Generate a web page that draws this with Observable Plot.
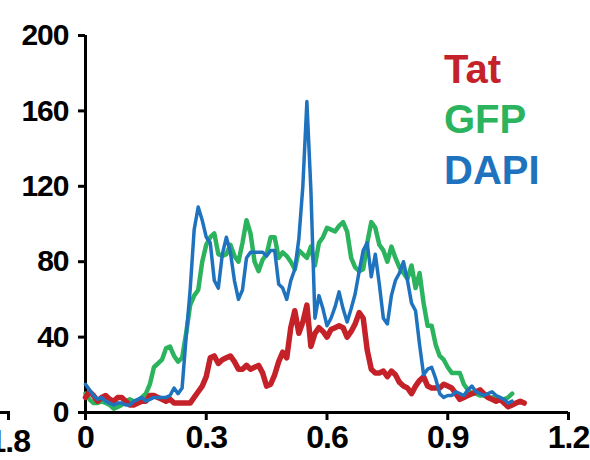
<!DOCTYPE html>
<html>
<head>
<meta charset="utf-8">
<script src="https://cdn.jsdelivr.net/npm/d3@7"></script>
<script src="https://cdn.jsdelivr.net/npm/@observablehq/plot@0.6"></script>
<style>
  html, body { margin: 0; padding: 0; background: #fff; }
  #wrap { position: relative; width: 590px; height: 460px; overflow: hidden; font-family: "Liberation Sans", Arial, sans-serif; }
  #wrap svg text { letter-spacing: -1px; }
  .leg { position: absolute; font-weight: bold; font-size: 40px; line-height: 1; white-space: nowrap; }
  .frag { position: absolute; font-weight: bold; font-size: 32px; line-height: 1; letter-spacing: -1px; text-align: right; }
  .fragline { position: absolute; background: #000; }
</style>
</head>
<body>
<div id="wrap"></div>
<script>
// ---- data ----
const step = 0.01; // sampling interval along x
const seriesNames = ["Tat", "GFP", "DAPI"];
const seriesColors = ["#c52129", "#2cb35e", "#1f73be"];

const tat = [8, 11, 9, 6, 8, 9, 7, 6, 8, 8, 6, 4, 4, 5, 6, 6, 9, 9, 8, 7,
  6, 7, 5, 5, 5, 5, 5, 8, 11, 14, 19, 29, 30, 26, 28, 29, 30, 27, 23, 23,
  25, 23, 24, 25, 21, 14, 15, 20, 27, 32, 29, 45, 54, 42, 48, 57, 35, 42, 45, 43,
  40, 44, 45, 46, 45, 40, 43, 47, 53, 50, 33, 23, 21, 21, 22, 19, 22, 20, 16, 14,
  13, 10, 14, 17, 19, 14, 13, 13, 13, 15, 14, 13, 10, 7, 8, 9, 10, 11, 12, 10,
  8, 7, 6, 7, 5, 3, 4, 5, 6, 5];

const gfp = [10, 7, 5, 5, 6, 5, 4, 2, 3, 4, 6, 7, 6, 6, 8, 10, 15, 24, 26, 28,
  34, 35, 30, 27, 29, 42, 57, 62, 65, 80, 89, 93, 95, 84, 83, 84, 89, 83, 80, 90,
  102, 95, 80, 75, 81, 84, 93, 93, 82, 85, 83, 80, 76, 86, 84, 82, 88, 78, 90, 93,
  98, 97, 96, 99, 101, 96, 82, 77, 75, 76, 90, 101, 98, 89, 86, 80, 88, 82, 77, 74,
  71, 78, 66, 74, 58, 46, 46, 36, 30, 28, 24, 21, 21, 21, 15, 12, 10, 10, 9, 9,
  8, 8, 8, 7, 7, 8, 10];

const dapi = [15, 12, 9, 7, 8, 6, 5, 4, 5, 5, 4, 4, 6, 7, 8, 6, 7, 8, 8, 8,
  8, 9, 13, 10, 13, 40, 65, 97, 109, 102, 93, 90, 70, 66, 84, 93, 85, 70, 60, 65,
  82, 85, 85, 85, 85, 83, 86, 86, 68, 66, 60, 70, 76, 92, 120, 165, 118, 50, 62, 55,
  46, 50, 56, 64, 55, 48, 55, 63, 75, 86, 90, 72, 84, 68, 50, 47, 62, 70, 74, 80,
  70, 58, 54, 36, 20, 23, 24, 18, 10, 8, 9, 9, 11, 10, 9, 12, 14, 11, 10, 9,
  10, 11, 9, 8, 7, 5, 6];

const xTicks = [0, 0.3, 0.6, 0.9, 1.2];
const xTickLabels = ["0", "0.3", "0.6", "0.9", "1.2"];
const yTicks = [0, 40, 80, 120, 160, 200];
const yTickLabels = ["0", "40", "80", "120", "160", "200"];

// ---- build table ----
const valueSets = [tat, gfp, dapi];
const rows = [];
valueSets.forEach((vals, s) => {
  vals.forEach((v, i) => rows.push({series: seriesNames[s], x: i * step, y: v}));
});
const bySeries = name => rows.filter(d => d.series === name);

const font = "'Liberation Sans', Arial, sans-serif";

const chart = Plot.plot({
  width: 590,
  height: 460,
  marginLeft: 85,
  marginRight: 22,
  marginTop: 35,
  marginBottom: 48,
  style: {fontFamily: font, background: "#fff", color: "#000"},
  x: {domain: [0, 1.2]},
  y: {domain: [0, 200]},
  color: {domain: seriesNames, range: seriesColors},
  marks: [
    Plot.axisX({
      ticks: xTicks,
      tickFormat: d => xTickLabels[xTicks.indexOf(d)],
      tickSize: 8,
      tickPadding: 5,
      strokeWidth: 3,
      fontSize: 32,
      fontWeight: "bold",
      label: null
    }),
    Plot.axisY({
      ticks: yTicks,
      tickFormat: d => yTickLabels[yTicks.indexOf(d)],
      tickSize: 7,
      tickPadding: 10,
      strokeWidth: 3,
      fontSize: 30,
      fontWeight: "bold",
      label: null
    }),
    Plot.ruleY([0], {stroke: "#000", strokeWidth: 3, insetLeft: -3}),
    Plot.ruleX([0], {stroke: "#000", strokeWidth: 3}),
    Plot.lineY(bySeries("GFP"), {x: "x", y: "y", stroke: "series", strokeWidth: 4.5, strokeLinejoin: "round"}),
    Plot.lineY(bySeries("Tat"), {x: "x", y: "y", stroke: "series", strokeWidth: 5.5, strokeLinejoin: "round"}),
    Plot.lineY(bySeries("DAPI"), {x: "x", y: "y", stroke: "series", strokeWidth: 3.5, strokeLinejoin: "round"})
  ]
});

const wrap = document.getElementById("wrap");
wrap.appendChild(chart);

// legend (text in series colours)
const legendTops = [49, 99, 150];
seriesNames.forEach((name, i) => {
  const div = document.createElement("div");
  div.className = "leg";
  div.textContent = name;
  div.style.color = seriesColors[i];
  div.style.left = "444px";
  div.style.top = legendTops[i] + "px";
  wrap.appendChild(div);
});

// fragment of neighbouring panel at far left (cut by the image edge, as in the reference)
const frag = document.createElement("div");
frag.className = "frag";
frag.textContent = "1.8";
frag.style.left = "-20px";
frag.style.width = "50px";
frag.style.top = "425px";
wrap.appendChild(frag);
const l1 = document.createElement("div");
l1.className = "fragline";
Object.assign(l1.style, {left: "0px", top: "411px", width: "10px", height: "3px"});
wrap.appendChild(l1);
const l2 = document.createElement("div");
l2.className = "fragline";
Object.assign(l2.style, {left: "7px", top: "411px", width: "3px", height: "9px"});
wrap.appendChild(l2);
</script>
</body>
</html>
